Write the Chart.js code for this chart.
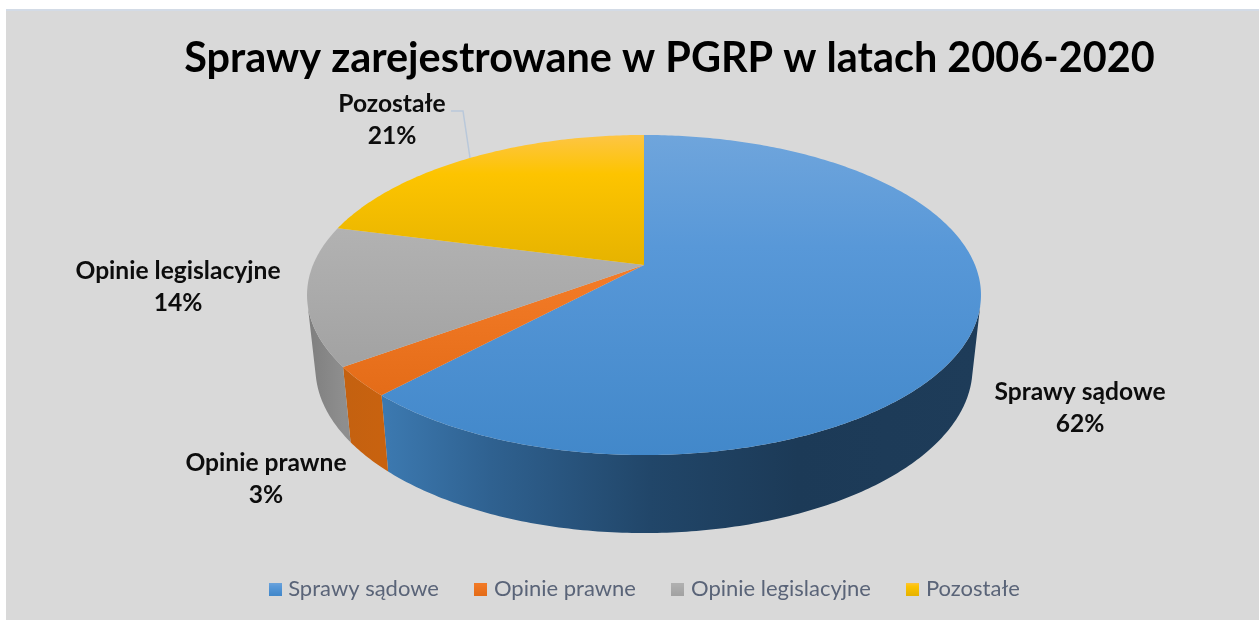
<!DOCTYPE html>
<html>
<head>
<meta charset="utf-8">
<script src="https://cdn.jsdelivr.net/npm/chart.js@4/dist/chart.umd.min.js"></script>
<style>html,body{margin:0;padding:0;background:#fff}canvas{display:block}</style>
</head>
<body>
<div style="width:1259px;height:620px"><canvas id="c" width="1259" height="620"></canvas></div>
<script>
const categories = ["Sprawy sądowe", "Opinie prawne", "Opinie legislacyjne", "Pozostałe"];
const shares = [62, 3, 14, 21];
const chartTitle = "Sprawy zarejestrowane w PGRP w latach 2006-2020";
const baseColors = ["#5b9bd5", "#ed7d31", "#a5a5a5", "#ffc000"];
const topStops = [
  [[0,"#6fa5dc"],[0.35,"#5898d8"],[1,"#4288ca"]],
  [[0,"#f47c28"],[1,"#e46c18"]],
  [[0,"#b2b2b2"],[1,"#a2a2a2"]],
  [[0,"#fdc545"],[0.3,"#fdc400"],[1,"#e6b300"]]
];
const wallStops = [
  [[0,"#3c79b0"],[0.18,"#2f6190"],[0.45,"#214669"],[0.7,"#1c3a57"],[1,"#1e3c59"]],
  [[0,"#c46110"],[1,"#c8620f"]],
  [[0,"#7e7e7e"],[1,"#8e8e8e"]],
  [[0,"#c09000"],[1,"#c09000"]]
];
const labelAnchors = [[1080,392],[266,463],[178,271],[392,104]];

/* perspective of the disc */
const APEX = {x:644, y:265}, KX = 331, A = 154.4, C = -0.1875;
const WALL = {sx:0.975, sy:165/160, cy0:295, cy1:368};
function rim(a){
  const ux = Math.cos(a), uy = Math.sin(a), d = 1 + C*uy;
  return {x: APEX.x + KX*ux/d, y: APEX.y + A*uy/d};
}
function rimLow(p){
  return {x: APEX.x + (p.x-APEX.x)*WALL.sx, y: WALL.cy1 + (p.y-WALL.cy0)*WALL.sy};
}
function grad(ctx, x0,y0,x1,y1, stops){
  const g = ctx.createLinearGradient(x0,y0,x1,y1);
  stops.forEach(s=>g.addColorStop(s[0],s[1]));
  return g;
}
function swatch(stops){
  const cv = document.createElement('canvas'); cv.width = 13; cv.height = 13;
  const x = cv.getContext('2d');
  x.fillStyle = grad(x,0,0,0,13,stops); x.fillRect(0,0,13,13);
  return cv;
}
const backdrop = {
  id:'backdrop',
  afterLayout(chart){
    chart.titleBlock.left += 23; chart.titleBlock.right += 23;
  },
  beforeDraw(chart){
    const c = chart.ctx;
    c.save();
    c.fillStyle = '#d9d9d9'; c.fillRect(6,10,1253,610);
    c.fillStyle = '#d3dbe6'; c.fillRect(6,9,1253,2);
    c.restore();
  }
};
const pie3d = {
  id:'pie3d',
  beforeDatasetsDraw(chart){
    const c = chart.ctx, arcs = chart.getDatasetMeta(0).data;
    const paths = arcs.map(e=>{
      const pts = [], n = Math.max(8, Math.ceil((e.endAngle-e.startAngle)*80));
      for(let i=0;i<=n;i++) pts.push(rim(e.startAngle+(e.endAngle-e.startAngle)*i/n));
      return pts;
    });
    c.save();
    /* walls: only the run of the rim that faces the viewer */
    paths.forEach((pts,i)=>{
      const front = pts.filter((a,k)=>{
        const n = pts[k+1] || a, p = pts[k-1] || a;
        const facing = (u,v)=>{const l = rimLow(u); return (v.x-u.x)*(l.y-u.y)-(v.y-u.y)*(l.x-u.x) < 0;};
        return (k<pts.length-1 && facing(a,n)) || (k>0 && facing(p,a));
      });
      if(front.length<2) return;
      const xs = pts.map(p=>p.x);
      const x0 = i===0 ? 385 : Math.min(...xs), x1 = i===0 ? 975 : Math.max(...xs);
      c.beginPath();
      front.forEach((p,k)=>k?c.lineTo(p.x,p.y):c.moveTo(p.x,p.y));
      front.map(rimLow).reverse().forEach(p=>c.lineTo(p.x,p.y));
      c.closePath();
      c.fillStyle = grad(c,x0,0,x1,0,wallStops[i]);
      c.fill();
    });
    /* top faces */
    paths.forEach((pts,i)=>{
      const ys = pts.map(p=>p.y).concat(APEX.y);
      c.beginPath(); c.moveTo(APEX.x,APEX.y);
      pts.forEach(p=>c.lineTo(p.x,p.y));
      c.closePath();
      c.fillStyle = grad(c,0,Math.min(...ys),0,Math.max(...ys),topStops[i]);
      c.fill();
    });
    /* leader */
    c.strokeStyle = '#b9c8da'; c.lineWidth = 1.5;
    c.beginPath(); c.moveTo(451,111); c.lineTo(463,111); c.lineTo(470,158); c.stroke();
    /* labels */
    c.font = 'bold 24.6px Lato'; c.fillStyle = '#0d0d0d';
    c.textAlign = 'center'; c.textBaseline = 'middle';
    arcs.forEach((e,i)=>{
      const [x,y] = labelAnchors[i];
      c.fillText(categories[i], x, y);
      c.fillText(shares[i]+'%', x, y+32);
    });
    c.restore();
    return false;
  }
};
new Chart(document.getElementById('c'),{
  type:'pie',
  data:{labels:categories,datasets:[{data:shares,backgroundColor:baseColors,borderWidth:0}]},
  plugins:[backdrop,pie3d],
  options:{
    responsive:false,animation:false,
    layout:{padding:{top:28,bottom:10,left:34}},
    plugins:{
      tooltip:{enabled:false},
      title:{display:true,text:chartTitle,color:'#000',font:{family:'Lato',size:41.4,weight:'bold'},padding:{top:6,bottom:10},align:'center'},
      legend:{display:true,position:'bottom',
        labels:{
          usePointStyle:true,pointStyleWidth:4,boxHeight:13,padding:40,
          color:'#5a6478',font:{family:'Lato',size:22},
          generateLabels(chart){
            return categories.map((t,i)=>({text:t,fontColor:'#5a6478',pointStyle:swatch(topStops[i]),hidden:false,index:i,strokeStyle:'transparent',lineWidth:0,fillStyle:baseColors[i]}));
          }
        }
      }
    }
  }
});
</script>
</body>
</html>
